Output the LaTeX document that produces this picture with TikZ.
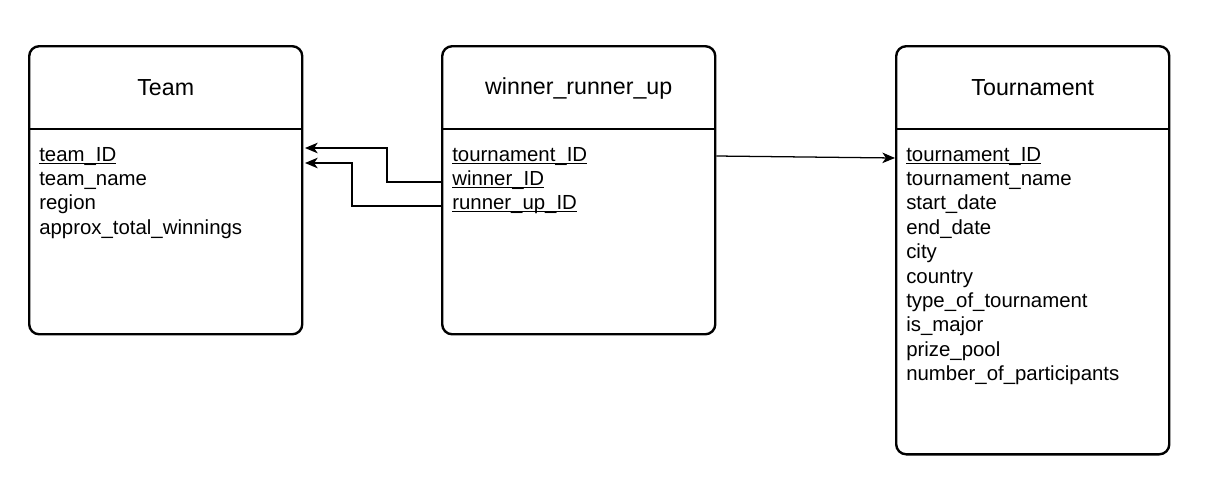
\documentclass[tikz,border=0pt]{standalone}
\usepackage{fontspec}
\setmainfont{Liberation Sans}
\usetikzlibrary{arrows.meta,positioning}

% key underline, set close to the baseline
\newcommand\keyul[1]{\setbox0\hbox{#1}\rlap{\rule[-1.9pt]{\wd0}{0.75pt}}\box0}

\begin{document}
\begin{tikzpicture}[
  x=0.025cm, y=-0.025cm,
  table/.style={draw, rounded corners=0.25cm, line width=1.7pt,
    minimum width=6.825cm, inner sep=0pt, anchor=north west},
  title/.style={font=\fontsize{16.5}{20}\selectfont},
  field/.style={anchor=base west, inner sep=0pt,
    font=\fontsize{14.5}{17.4}\selectfont},
  divider/.style={line width=1.7pt},
  arr/.style={-{Stealth[length=9pt, width=7.5pt, inset=2.5pt]}, line width=0.9pt}
]
  \useasboundingbox (0,0) rectangle (1214,502);

  % tables
  \node[table, minimum height=7.2cm] (team) at (28,45) {};
  \node[table, minimum height=7.2cm] (wru) at (441,45) {};
  \node[table, minimum height=10.2cm] (tour) at (895,45) {};

  % headers
  \path (team.north) ++(0,43) node[title] (team-title) {Team};
  \path (wru.north) ++(0,43) node[title] (wru-title) {winner\_runner\_up};
  \path (tour.north) ++(0,43) node[title] (tour-title) {Tournament};
  \draw[divider] (team.north west) ++(0,84) -- ++(273,0);
  \draw[divider] (wru.north west) ++(0,84) -- ++(273,0);
  \draw[divider] (tour.north west) ++(0,84) -- ++(273,0);

  % fields
  \foreach \f [count=\i from 0] in {\keyul{team\_ID}, team\_name, region,
      approx\_total\_winnings}
    \node[field] (team-\i) at (39,161+24.4*\i) {\f};
  \foreach \f [count=\i from 0] in {\keyul{tournament\_ID},
      \keyul{winner\_ID}, \keyul{runner\_up\_ID}}
    \node[field] (wru-\i) at (452,161+24.4*\i) {\f};
  \foreach \f [count=\i from 0] in {\keyul{tournament\_ID},
      tournament\_name, start\_date, end\_date, city, country,
      type\_of\_tournament, is\_major, prize\_pool, number\_of\_participants}
    \node[field] (tour-\i) at (906,161+24.4*\i) {\f};

  % links
  \coordinate (tin1) at (305,148);
  \coordinate (tin2) at (305,163);
  \coordinate (tout) at (895,158);
  \draw[arr] (wru.west |- 0,182) -- ++(-54,0) |- (tin1);
  \draw[arr] (wru.west |- 0,206) -- ++(-89,0) |- (tin2);
  \draw[arr] (wru.east |- 0,156) -- (tout);
\end{tikzpicture}
\end{document}
